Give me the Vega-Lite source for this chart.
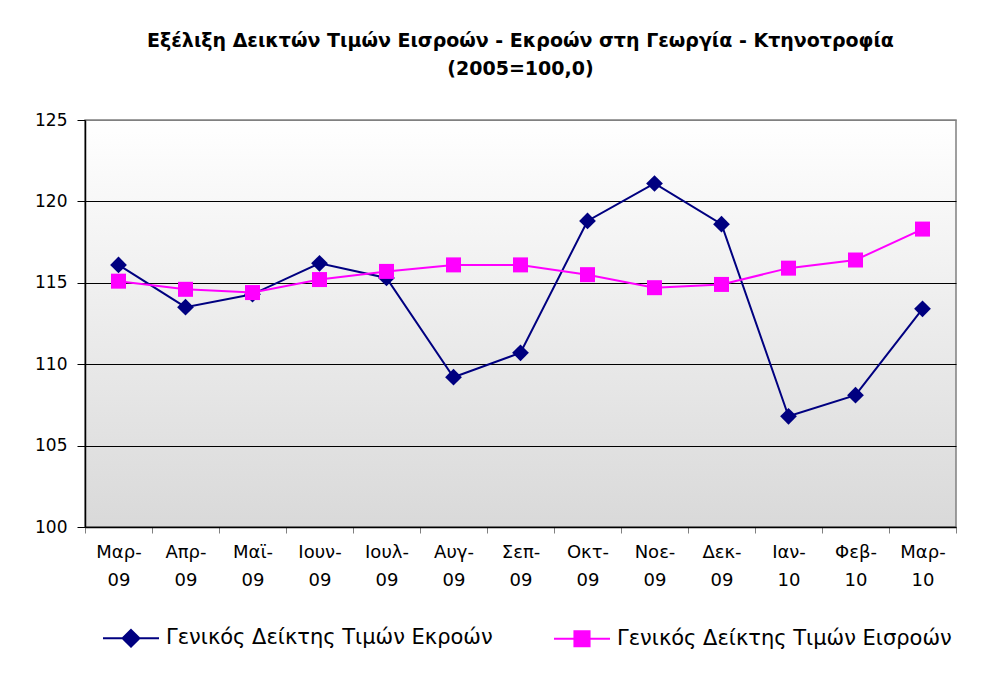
{
  "$schema": "https://vega.github.io/schema/vega-lite/v6.json",
  "autosize": "none",
  "width": 871,
  "height": 407,
  "padding": {"left": 85, "top": 120, "right": 38, "bottom": 152},
  "background": "white",
  "title": {
    "text": ["Εξέλιξη Δεικτών Τιμών Εισροών - Εκροών στη Γεωργία - Κτηνοτροφία", "(2005=100,0)"],
    "font": "DejaVu Sans",
    "fontSize": 19,
    "fontWeight": "bold",
    "color": "black",
    "anchor": "middle",
    "frame": "group",
    "lineHeight": 28,
    "offset": 32
  },
  "config": {
    "view": {
      "stroke": "#808080",
      "strokeWidth": 1.5,
      "fill": {"gradient": "linear", "x1": 0, "y1": 0, "x2": 0, "y2": 1, "stops": [{"offset": 0, "color": "#ffffff"}, {"offset": 1, "color": "#d9d9d9"}]}
    },
    "font": "DejaVu Sans"
  },
  "data": {
    "values": [
      {"month": "Μαρ-09", "series": "Γενικός Δείκτης Τιμών Εκροών", "value": 116.1},
      {"month": "Απρ-09", "series": "Γενικός Δείκτης Τιμών Εκροών", "value": 113.5},
      {"month": "Μαϊ-09", "series": "Γενικός Δείκτης Τιμών Εκροών", "value": 114.3},
      {"month": "Ιουν-09", "series": "Γενικός Δείκτης Τιμών Εκροών", "value": 116.2},
      {"month": "Ιουλ-09", "series": "Γενικός Δείκτης Τιμών Εκροών", "value": 115.3},
      {"month": "Αυγ-09", "series": "Γενικός Δείκτης Τιμών Εκροών", "value": 109.2},
      {"month": "Σεπ-09", "series": "Γενικός Δείκτης Τιμών Εκροών", "value": 110.7},
      {"month": "Οκτ-09", "series": "Γενικός Δείκτης Τιμών Εκροών", "value": 118.8},
      {"month": "Νοε-09", "series": "Γενικός Δείκτης Τιμών Εκροών", "value": 121.1},
      {"month": "Δεκ-09", "series": "Γενικός Δείκτης Τιμών Εκροών", "value": 118.6},
      {"month": "Ιαν-10", "series": "Γενικός Δείκτης Τιμών Εκροών", "value": 106.8},
      {"month": "Φεβ-10", "series": "Γενικός Δείκτης Τιμών Εκροών", "value": 108.1},
      {"month": "Μαρ-10", "series": "Γενικός Δείκτης Τιμών Εκροών", "value": 113.4},
      {"month": "Μαρ-09", "series": "Γενικός Δείκτης Τιμών Εισροών", "value": 115.1},
      {"month": "Απρ-09", "series": "Γενικός Δείκτης Τιμών Εισροών", "value": 114.6},
      {"month": "Μαϊ-09", "series": "Γενικός Δείκτης Τιμών Εισροών", "value": 114.4},
      {"month": "Ιουν-09", "series": "Γενικός Δείκτης Τιμών Εισροών", "value": 115.2},
      {"month": "Ιουλ-09", "series": "Γενικός Δείκτης Τιμών Εισροών", "value": 115.7},
      {"month": "Αυγ-09", "series": "Γενικός Δείκτης Τιμών Εισροών", "value": 116.1},
      {"month": "Σεπ-09", "series": "Γενικός Δείκτης Τιμών Εισροών", "value": 116.1},
      {"month": "Οκτ-09", "series": "Γενικός Δείκτης Τιμών Εισροών", "value": 115.5},
      {"month": "Νοε-09", "series": "Γενικός Δείκτης Τιμών Εισροών", "value": 114.7},
      {"month": "Δεκ-09", "series": "Γενικός Δείκτης Τιμών Εισροών", "value": 114.9},
      {"month": "Ιαν-10", "series": "Γενικός Δείκτης Τιμών Εισροών", "value": 115.9},
      {"month": "Φεβ-10", "series": "Γενικός Δείκτης Τιμών Εισροών", "value": 116.4},
      {"month": "Μαρ-10", "series": "Γενικός Δείκτης Τιμών Εισροών", "value": 118.3}
    ]
  },
  "encoding": {
    "x": {
      "field": "month",
      "type": "nominal",
      "sort": null,
      "scale": {"paddingInner": 0, "paddingOuter": 0},
      "axis": {
        "title": null,
        "labelAngle": 0,
        "labelFont": "DejaVu Sans",
        "labelFontSize": 18,
        "labelColor": "black",
        "labelLineHeight": 28,
        "labelPadding": 10,
        "labelExpr": "datum.label ? [split(datum.label, '-')[0] + '-', split(datum.label, '-')[1]] : ''",
        "tickBand": "extent",
        "tickSize": 6,
        "tickColor": "#808080",
        "domainColor": "black",
        "domainWidth": 1.5,
        "grid": false
      }
    },
    "y": {
      "field": "value",
      "type": "quantitative",
      "scale": {"domain": [100, 125], "zero": false, "nice": false},
      "axis": {
        "title": null,
        "values": [100, 105, 110, 115, 120, 125],
        "labelFont": "DejaVu Sans",
        "labelFontSize": 17,
        "labelColor": "black",
        "labelPadding": 10,
        "tickSize": 8,
        "tickColor": "black",
        "domainColor": "black",
        "domainWidth": 1.5,
        "grid": true,
        "gridColor": {"condition": {"test": "datum.value == 125", "value": "#808080"}, "value": "black"},
        "gridWidth": 1.2,
        "gridOpacity": 1
      }
    },
    "color": {
      "field": "series",
      "type": "nominal",
      "sort": ["Γενικός Δείκτης Τιμών Εκροών", "Γενικός Δείκτης Τιμών Εισροών"],
      "scale": {"domain": ["Γενικός Δείκτης Τιμών Εκροών", "Γενικός Δείκτης Τιμών Εισροών"], "range": ["#000080", "#FF00FF"]},
      "legend": {
        "title": null,
        "orient": "none",
        "legendX": 17,
        "legendY": 489,
        "direction": "horizontal",
        "columns": 2,
        "columnPadding": 57,
        "padding": 0,
        "symbolSize": 3136,
        "symbolStrokeWidth": 2,
        "labelFont": "DejaVu Sans",
        "labelFontSize": 21,
        "labelColor": "black",
        "labelOffset": 6,
        "labelLimit": 600,
        "encode": {
          "symbols": {
            "update": {
              "shape": {"signal": "datum.value == 'Γενικός Δείκτης Τιμών Εκροών' ? 'M-1,0L1,0M0,-0.3L0.3,0L0,0.3L-0.3,0Z' : 'M-1,0L1,0M-0.27,-0.27L0.27,-0.27L0.27,0.27L-0.27,0.27Z'"},
              "fill": {"signal": "datum.value == 'Γενικός Δείκτης Τιμών Εκροών' ? '#000080' : '#FF00FF'"},
              "stroke": {"signal": "datum.value == 'Γενικός Δείκτης Τιμών Εκροών' ? '#000080' : '#FF00FF'"},
              "strokeWidth": {"value": 2},
              "opacity": {"value": 1},
              "fillOpacity": {"value": 1}
            }
          }
        }
      }
    }
  },
  "layer": [
    {"mark": {"type": "line", "strokeWidth": 2}},
    {
      "transform": [{"filter": "datum.series == 'Γενικός Δείκτης Τιμών Εκροών'"}],
      "mark": {"type": "point", "shape": "diamond", "size": 280, "filled": true, "opacity": 1}
    },
    {
      "transform": [{"filter": "datum.series == 'Γενικός Δείκτης Τιμών Εισροών'"}],
      "mark": {"type": "point", "shape": "square", "size": 225, "filled": true, "opacity": 1}
    }
  ]
}
